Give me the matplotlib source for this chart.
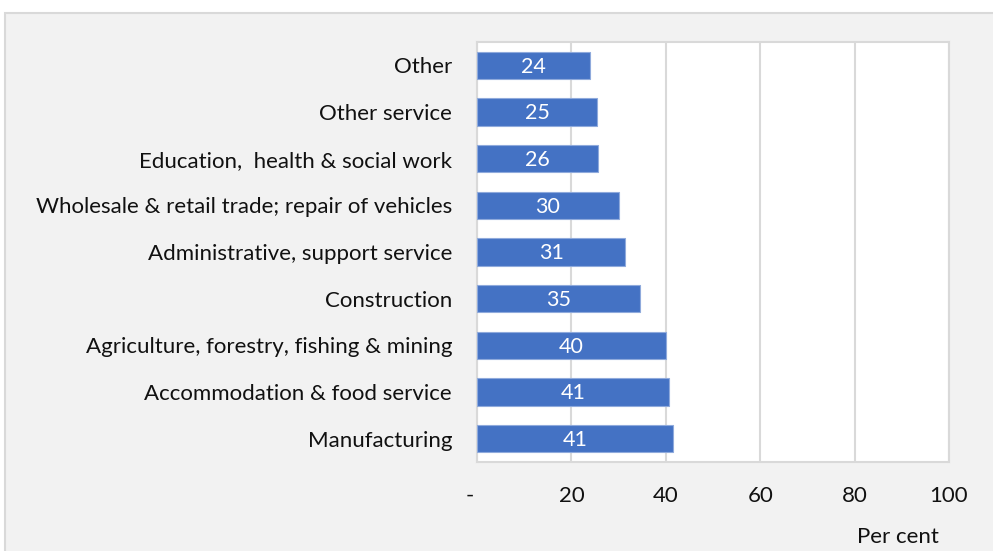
import numpy as np
import matplotlib.pyplot as plt
from matplotlib.patches import Rectangle
from matplotlib.transforms import ScaledTranslation

# sectors, top to bottom as drawn
sectors = ["Other", "Other service", "Education,  health & social work",
           "Wholesale & retail trade; repair of vehicles",
           "Administrative, support service", "Construction",
           "Agriculture, forestry, fishing & mining",
           "Accommodation & food service", "Manufacturing"]
values = [23.9, 25.4, 25.6, 30.1, 31.4, 34.5, 40.0, 40.7, 41.5]
labels = ["24", "25", "26", "30", "31", "35", "40", "41", "41"]
xticks = [0, 20, 40, 60, 80, 100]
xticklabels = ["-", "20", "40", "60", "80", "100"]

plt.rcParams['font.family'] = ['Lato', 'DejaVu Sans']

fig = plt.figure(figsize=(9.93, 5.51), dpi=100, facecolor='white')
# grey panel behind the chart
fig.patches.append(Rectangle((5/993, -0.01), 1.0, 1 - 13/551 + 0.01,
                             transform=fig.transFigure, facecolor='#f2f2f2',
                             edgecolor='#d9d9d9', linewidth=1.5, zorder=-1))

ax = fig.add_axes([477/993, 1 - 462/551, (949-477)/993, (462-42)/551])
ax.set_facecolor('white')

pos = np.arange(len(sectors))
bars = ax.barh(pos, values, height=0.58, color='#4472c4', edgecolor='#8faadc',
               linewidth=0.8, zorder=3)
for p, v, lab in zip(pos, values, labels):
    ax.text(v / 2, p + 0.03, lab, color='white', ha='center', va='center',
            fontsize=15.5, zorder=4)

ax.set_ylim(len(sectors) - 0.5, -0.5)
ax.set_xlim(0, 100)
ax.set_yticks(pos)
ax.set_yticklabels(sectors, fontsize=16, color='#111111')
ax.set_xticks(xticks)
ax.set_xticklabels(xticklabels, fontsize=16, color='#111111')
ax.tick_params(axis='both', length=0)
ax.tick_params(axis='y', pad=18)
ax.tick_params(axis='x', pad=17)
# the "-" for zero sits a little left of the axis
lab0 = ax.get_xticklabels()[0]
lab0.set_transform(lab0.get_transform() + ScaledTranslation(-7/100, 0, fig.dpi_scale_trans))
ax.grid(axis='x', color='#d9d9d9', linewidth=1.5, zorder=0)
for s in ax.spines.values():
    s.set_color('#d9d9d9')
    s.set_linewidth(1.5)

fig.text(898/993, 1 - 537/551, "Per cent", ha='center', va='center',
         fontsize=16, color='#111111')

fig.savefig('out.png', dpi=100, facecolor=fig.get_facecolor())
